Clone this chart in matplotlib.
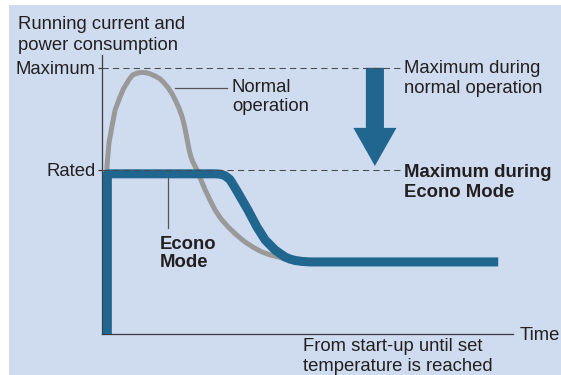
import matplotlib.pyplot as plt
from matplotlib.patches import Rectangle, FancyArrow

plt.rcParams['font.family'] = ['Liberation Sans', 'DejaVu Sans']

# Running current curves (time units 0-100, current: rated = 100)
normal_t = [1.2, 1.2, 1.7, 2.4, 3.2, 4.4, 5.2, 6.1, 6.8, 7.5, 8.6, 9.7, 10.7, 11.7,
            12.9, 14.1, 15.1, 16.1, 17.0, 17.8, 18.7, 19.5, 20.0, 20.4, 20.8, 21.2,
            21.6, 22.1, 23.1, 24.1, 25.1, 26.3, 27.5, 29.0, 30.7, 32.7, 34.8, 36.8,
            38.9, 40.9, 42.8, 44.5, 46.2]
normal_i = [0, 101.8, 116.5, 126.2, 136.6, 144.5, 149.3, 153.0, 155.8, 157.9, 159.0,
            159.4, 159.2, 158.5, 157.2, 155.5, 153.0, 150.0, 146.6, 142.7, 137.8, 132.3,
            127.5, 122.6, 117.4, 112.2, 108.2, 104.9, 100.0, 93.8, 87.8, 81.5, 75.6,
            70.0, 65.2, 60.4, 56.1, 52.8, 50.0, 48.2, 47.0, 45.7, 44.5]

econo_t = [1.3, 1.3, 27.5, 28.7, 29.9, 31.1, 32.1, 33.1, 35.5, 37.7, 39.7, 42.1, 43.3,
           44.5, 45.7, 47.0, 48.7, 50.6, 96.4]
econo_i = [0, 97.6, 97.6, 97.4, 96.5, 94.2, 90.2, 86.0, 75.6, 65.2, 57.3, 51.2, 49.1,
           47.0, 45.7, 44.8, 44.2, 43.9, 43.9]

level_max = 162.2
level_rated = 100.0
level_labels = ['Maximum', 'Rated']

bg = '#cfdcf0'
blue = '#21668f'
gray = '#999999'
ink = '#231f20'
fs = 13.3

fig = plt.figure(figsize=(5.61, 3.75), dpi=100)
fig.patches.append(Rectangle((9 / 561, 0), 1, 370 / 375, transform=fig.transFigure,
                             facecolor=bg, edgecolor='none', zorder=-1))

ax = fig.add_axes([102 / 561, 41 / 375, 411 / 561, 279 / 375])
ax.set_facecolor('none')
ax.set_xlim(0, 100)
ax.set_ylim(0, 170)
for s in ['top', 'right']:
    ax.spines[s].set_visible(False)
for s in ['left', 'bottom']:
    ax.spines[s].set_color('#3a3a3a')
    ax.spines[s].set_linewidth(0.9)
ax.set_xticks([])
ax.set_yticks([level_max, level_rated])
ax.set_yticklabels(level_labels, fontsize=fs, color=ink)
ax.tick_params(axis='y', length=3, width=0.9, color='#3a3a3a', pad=1.5)

# curves
ax.plot(normal_t, normal_i, color=gray, lw=3.6, solid_capstyle='butt',
        solid_joinstyle='round', clip_on=False, zorder=2)
ax.plot(econo_t, econo_i, color=blue, lw=6.5, solid_capstyle='butt',
        solid_joinstyle='round', clip_on=False, zorder=3)

# dashed reference levels
for lev in [level_max, level_rated]:
    ax.plot([0, 72.5], [lev, lev], color='#4a4a4a', lw=0.75, dashes=(6, 4), zorder=4)

# arrow from normal maximum down to econo maximum
ax.add_patch(FancyArrow(66.4, level_max, 0, 102.4 - level_max, width=4.4,
                        head_width=10.5, head_length=23.2, length_includes_head=True,
                        color=blue, lw=0, zorder=3))

# leader lines
ax.plot([17.8, 30.4], [150, 150], color='#555555', lw=0.9, zorder=1)
ax.plot([16.1, 16.1], [95.1, 64.6], color='#555555', lw=0.9, zorder=1)

# labels
ax.text(-20.4, 193.8, 'Running current and\npower consumption', fontsize=fs, color=ink,
        va='top', ha='left', linespacing=1.28, clip_on=False)
ax.text(73.5, 167.0, 'Maximum during\nnormal operation', fontsize=fs, color=ink,
        va='top', ha='left', linespacing=1.25)
ax.text(73.5, 103.8, 'Maximum during\nEcono Mode', fontsize=fs, color=ink,
        fontweight='bold', va='top', ha='left', linespacing=1.25)
ax.text(31.6, 155.2, 'Normal\noperation', fontsize=fs, color=ink,
        va='top', ha='left', linespacing=1.14)
ax.text(14.1, 59.7, 'Econo\nMode', fontsize=fs, color=ink, fontweight='bold',
        va='top', ha='left', linespacing=1.10)
ax.text(48.8, -2.3, 'From start-up until set\ntemperature is reached', fontsize=fs,
        color=ink, va='top', ha='left', linespacing=1.21, clip_on=False)
ax.text(101.7, 4.4, 'Time', fontsize=fs, color=ink, va='top', ha='left', clip_on=False)

fig.savefig('out.png', dpi=100)
